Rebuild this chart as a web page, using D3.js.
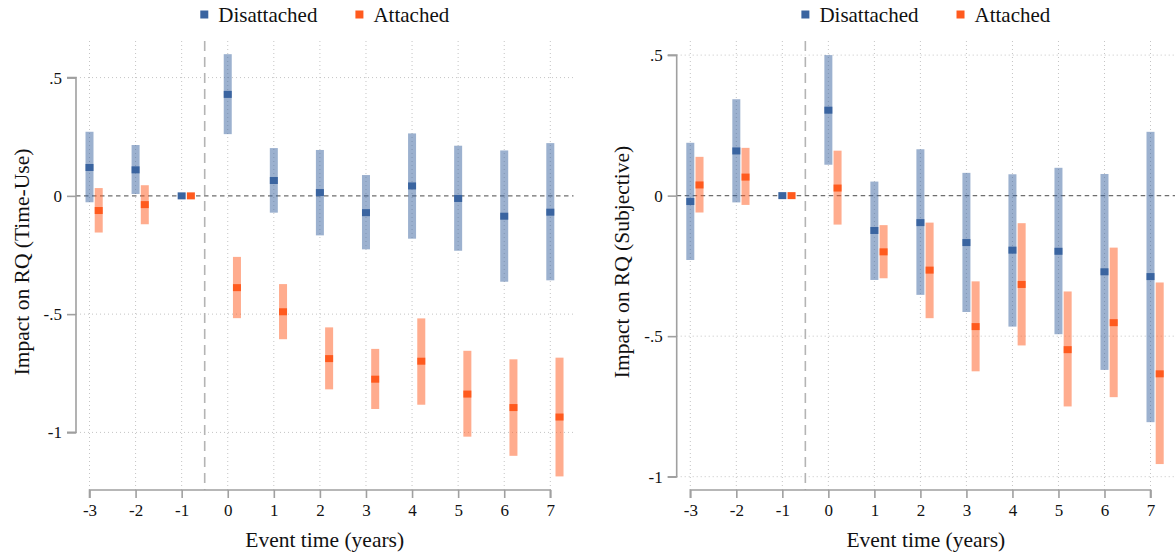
<!DOCTYPE html>
<html>
<head>
<meta charset="utf-8">
<script src="https://cdn.jsdelivr.net/npm/d3@7"></script>
<style>
  html, body { margin: 0; padding: 0; background: #fff; }
  svg { display: block; }
  text { font-family: "Liberation Serif", "Times New Roman", serif; fill: #111; }
</style>
</head>
<body>
<svg id="chart" width="1175" height="556"></svg>
<script>
// ---------------- DATA ----------------
const eventTimes = [-3, -2, -1, 0, 1, 2, 3, 4, 5, 6, 7];
const xTickLabels = ["-3", "-2", "-1", "0", "1", "2", "3", "4", "5", "6", "7"];
const yTickValues = [0.5, 0, -0.5, -1];
const yTickLabels = [".5", "0", "-.5", "-1"];
const seriesNames = ["Disattached", "Attached"];

// Panel 1: Time-Use
const tuDisCoef = [0.120, 0.110, 0, 0.429, 0.065, 0.014, -0.071, 0.042, -0.011, -0.086, -0.069];
const tuDisLo   = [-0.027, 0.008, null, 0.261, -0.071, -0.167, -0.226, -0.181, -0.232, -0.363, -0.357];
const tuDisHi   = [0.271, 0.215, null, 0.599, 0.202, 0.194, 0.088, 0.264, 0.212, 0.192, 0.223];
const tuAttCoef = [-0.062, -0.037, 0, -0.388, -0.490, -0.688, -0.775, -0.699, -0.838, -0.895, -0.935];
const tuAttLo   = [-0.155, -0.120, null, -0.517, -0.606, -0.818, -0.901, -0.883, -1.018, -1.099, -1.186];
const tuAttHi   = [0.033, 0.045, null, -0.258, -0.373, -0.556, -0.647, -0.518, -0.655, -0.691, -0.684];

// Panel 2: Subjective
const sjDisCoef = [-0.021, 0.159, 0, 0.304, -0.124, -0.096, -0.167, -0.194, -0.198, -0.271, -0.288];
const sjDisLo   = [-0.229, -0.024, null, 0.110, -0.300, -0.353, -0.414, -0.466, -0.493, -0.620, -0.806];
const sjDisHi   = [0.188, 0.343, null, 0.500, 0.050, 0.165, 0.081, 0.076, 0.099, 0.077, 0.227];
const sjAttCoef = [0.038, 0.066, 0, 0.027, -0.200, -0.265, -0.466, -0.316, -0.548, -0.452, -0.634];
const sjAttLo   = [-0.060, -0.033, null, -0.103, -0.294, -0.436, -0.625, -0.533, -0.750, -0.717, -0.955];
const sjAttHi   = [0.138, 0.170, null, 0.160, -0.105, -0.096, -0.305, -0.098, -0.341, -0.185, -0.309];

const yTitles = ["Impact on RQ (Time-Use)", "Impact on RQ (Subjective)"];
const xTitle = "Event time (years)";

// ---------------- STYLE ----------------
const colDis = "#3a64a0";
const colAtt = "#ff5a1e";
const ciOpacity = 0.5;
const attOffset = 0.2;

const svg = d3.select("#chart");

const panels = [
  {
    dis: { coef: tuDisCoef, lo: tuDisLo, hi: tuDisHi },
    att: { coef: tuAttCoef, lo: tuAttLo, hi: tuAttHi },
    yTitle: yTitles[0],
    xRange: [89.5, 550.3], axisX: 76, rightX: 573.5,
    yRange: [77.6, 432.4], titleX: 22
  },
  {
    dis: { coef: sjDisCoef, lo: sjDisLo, hi: sjDisHi },
    att: { coef: sjAttCoef, lo: sjAttLo, hi: sjAttHi },
    yTitle: yTitles[1],
    xRange: [690.3, 1150.5], axisX: 676.7, rightX: 1175,
    yRange: [55.1, 476.7], titleX: 622
  }
];

const plotTop = 41;
const xAxisY = 490;

panels.forEach(p => {
  const g = svg.append("g");
  const x = d3.scaleLinear().domain([-3, 7]).range(p.xRange);
  const y = d3.scaleLinear().domain([0.5, -1]).range(p.yRange);

  // vertical dotted grid
  g.selectAll(".vgrid").data(eventTimes).enter().append("line")
    .attr("x1", d => x(d)).attr("x2", d => x(d))
    .attr("y1", plotTop).attr("y2", xAxisY)
    .attr("stroke", "#c4c4c4").attr("stroke-width", 1)
    .attr("stroke-dasharray", "1,3");

  // horizontal dotted grid (non-zero)
  g.selectAll(".hgrid").data(yTickValues.filter(v => v !== 0)).enter().append("line")
    .attr("x1", p.axisX).attr("x2", p.rightX)
    .attr("y1", d => y(d)).attr("y2", d => y(d))
    .attr("stroke", "#c4c4c4").attr("stroke-width", 1)
    .attr("stroke-dasharray", "1,3");

  // zero reference line
  g.append("line")
    .attr("x1", p.axisX).attr("x2", p.rightX)
    .attr("y1", y(0)).attr("y2", y(0))
    .attr("stroke", "#6e6e6e").attr("stroke-width", 1.4)
    .attr("stroke-dasharray", "4.5,3.5");

  // vertical event line at -0.5
  g.append("line")
    .attr("x1", x(-0.5)).attr("x2", x(-0.5))
    .attr("y1", plotTop).attr("y2", xAxisY)
    .attr("stroke", "#b4b4b4").attr("stroke-width", 1.6)
    .attr("stroke-dasharray", "10,6");

  // CI bars and points
  const series = [
    { s: p.dis, color: colDis, off: 0 },
    { s: p.att, color: colAtt, off: attOffset }
  ];
  const barW = 8;
  series.forEach(ser => {
    const rows = eventTimes.map((t, i) => ({ t, c: ser.s.coef[i], lo: ser.s.lo[i], hi: ser.s.hi[i] }));
    g.selectAll(null).data(rows.filter(r => r.lo !== null)).enter().append("rect")
      .attr("x", r => x(r.t + ser.off) - barW / 2)
      .attr("width", barW)
      .attr("y", r => y(r.hi))
      .attr("height", r => y(r.lo) - y(r.hi))
      .attr("fill", ser.color).attr("fill-opacity", ciOpacity);
    g.selectAll(null).data(rows).enter().append("rect")
      .attr("x", r => x(r.t + ser.off) - 4)
      .attr("width", 8)
      .attr("y", r => y(r.c) - 3.5)
      .attr("height", 7)
      .attr("fill", ser.color);
  });

  // y axis
  const yAxis = d3.axisLeft(y).tickValues(yTickValues)
    .tickFormat((d, i) => yTickLabels[i]).tickSize(9).tickPadding(5);
  const ya = g.append("g").attr("transform", `translate(${p.axisX},0)`).call(yAxis);
  ya.select(".domain").attr("stroke", "#a0a0a0").attr("stroke-width", 1.6)
    .attr("d", `M-9,${y(0.5)}H0V${y(-1)}H-9`);
  ya.selectAll(".tick line").attr("stroke", "#a0a0a0").attr("stroke-width", 1.6);
  ya.selectAll(".tick text").style("font-family", "Liberation Serif").style("font-size", "17px").attr("fill", "#111");

  // x axis
  const xAxis = d3.axisBottom(x).tickValues(eventTimes)
    .tickFormat((d, i) => xTickLabels[i]).tickSize(8).tickPadding(6);
  const xa = g.append("g").attr("transform", `translate(0,${xAxisY})`).call(xAxis);
  xa.select(".domain").attr("stroke", "#a0a0a0").attr("stroke-width", 1.6)
    .attr("d", `M${x(-3)},8V0H${x(7)}V8`);
  xa.selectAll(".tick line").attr("stroke", "#a0a0a0").attr("stroke-width", 1.6);
  xa.selectAll(".tick text").style("font-family", "Liberation Serif").style("font-size", "17px").attr("fill", "#111");

  const cx = (p.axisX + p.rightX) / 2;

  // x title
  g.append("text").attr("x", cx).attr("y", 547)
    .attr("text-anchor", "middle").style("font-size", "21.5px").text(xTitle);

  // y title
  g.append("text")
    .attr("transform", `translate(${p.titleX + 7},${262}) rotate(-90)`)
    .attr("text-anchor", "middle").style("font-size", "21.5px").text(p.yTitle);

  // legend
  const leg = g.append("g");
  const items = [{ name: seriesNames[0], color: colDis }, { name: seriesNames[1], color: colAtt }];
  const gapItems = 38, sqGap = 10, sq = 8;
  // measure
  const tmp = items.map(it => {
    const t = leg.append("text").style("font-size", "21px").text(it.name);
    const w = t.node().getComputedTextLength();
    t.remove();
    return w;
  });
  const totalW = items.reduce((acc, it, i) => acc + sq + sqGap + tmp[i], 0) + gapItems;
  let lx = cx - totalW / 2;
  items.forEach((it, i) => {
    leg.append("rect").attr("x", lx).attr("y", 10.5).attr("width", sq).attr("height", sq).attr("fill", it.color);
    leg.append("text").attr("x", lx + sq + sqGap).attr("y", 21.5).style("font-size", "21px").text(it.name);
    lx += sq + sqGap + tmp[i] + gapItems;
  });
});
</script>
</body>
</html>
